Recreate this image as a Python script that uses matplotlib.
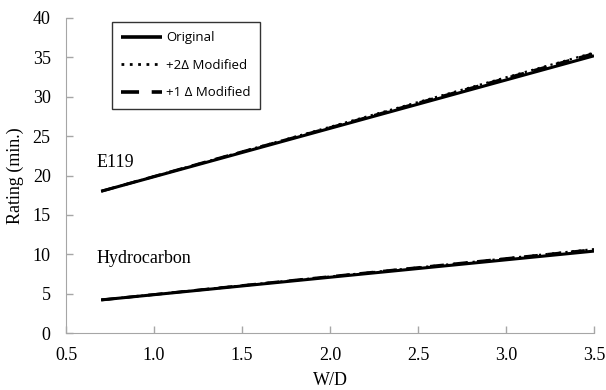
import matplotlib
matplotlib.use("Agg")
import matplotlib.pyplot as plt

# W/D ratio
wd = [0.7, 1.4, 2.1, 2.8, 3.5]

# E119 rating (min.)
e119_orig = [18.0, 22.3, 26.6, 30.9, 35.2]
e119_plus2 = [18.0, 22.4, 26.8, 31.2, 35.6]
e119_plus1 = [18.0, 22.4, 26.7, 31.1, 35.5]

# Hydrocarbon rating (min.)
hc_orig = [4.2, 5.75, 7.3, 8.85, 10.4]
hc_plus2 = [4.2, 5.8, 7.4, 9.0, 10.65]
hc_plus1 = [4.2, 5.8, 7.4, 9.0, 10.6]

xticks = [0.5, 1.0, 1.5, 2.0, 2.5, 3.0, 3.5]
yticks = [0, 5, 10, 15, 20, 25, 30, 35, 40]

serif = "Liberation Serif"
sans = ["Open Sans", "DejaVu Sans"]
axis_gray = "#a6a6a6"

fig = plt.figure(figsize=(6.06, 3.9), dpi=100)
ax = fig.add_axes([66 / 606, 57 / 390, 528 / 606, 315 / 390])

l1, = ax.plot(wd, e119_orig, color="black", lw=2.2, solid_capstyle="butt")
l2, = ax.plot(wd, e119_plus2, color="black", lw=1.6, ls=(0, (1, 2)))
l3, = ax.plot(wd, e119_plus1, color="black", lw=2.0, ls=(0, (5, 3.5)))
ax.plot(wd, hc_orig, color="black", lw=2.2, solid_capstyle="butt")
ax.plot(wd, hc_plus2, color="black", lw=1.6, ls=(0, (1, 2)))
ax.plot(wd, hc_plus1, color="black", lw=2.0, ls=(0, (5, 3.5)))

ax.set_xlim(0.5, 3.5)
ax.set_ylim(0, 40)
ax.set_xticks(xticks)
ax.set_xticklabels([f"{t:.1f}" for t in xticks], fontfamily=serif, fontsize=13)
ax.set_yticks(yticks)
ax.set_yticklabels([str(t) for t in yticks], fontfamily=serif, fontsize=13)
ax.tick_params(direction="in", length=5, color=axis_gray, width=1)
ax.tick_params(axis="x", pad=10)
ax.tick_params(axis="y", pad=11)

for side in ["top", "right"]:
    ax.spines[side].set_visible(False)
for side in ["left", "bottom"]:
    ax.spines[side].set_color(axis_gray)

ax.set_xlabel("W/D", fontfamily=serif, fontsize=13, labelpad=6)
ax.set_ylabel("Rating (min.)", fontfamily=serif, fontsize=13, labelpad=6)

ax.text(0.676, 21.7, "E119", fontfamily=serif, fontsize=13, va="center")
ax.text(0.676, 9.4, "Hydrocarbon", fontfamily=serif, fontsize=13, va="center")

leg = ax.legend([l1, l2, l3], ["Original", "+2\u0394 Modified", "+1 \u0394 Modified"],
                loc="upper left", bbox_to_anchor=(112 / 606, 1 - 22 / 390),
                bbox_transform=fig.transFigure, borderaxespad=0,
                frameon=True, fancybox=False, edgecolor="black",
                handlelength=3.1, handletextpad=0.3, labelspacing=1.1,
                borderpad=0.7, prop={"family": sans, "size": 9.5})
leg.get_frame().set_linewidth(1.0)
for h in leg.get_lines():
    h.set_linewidth(2.6)
leg.get_lines()[1].set_linewidth(2.0)

fig.savefig("out.png", dpi=100)
